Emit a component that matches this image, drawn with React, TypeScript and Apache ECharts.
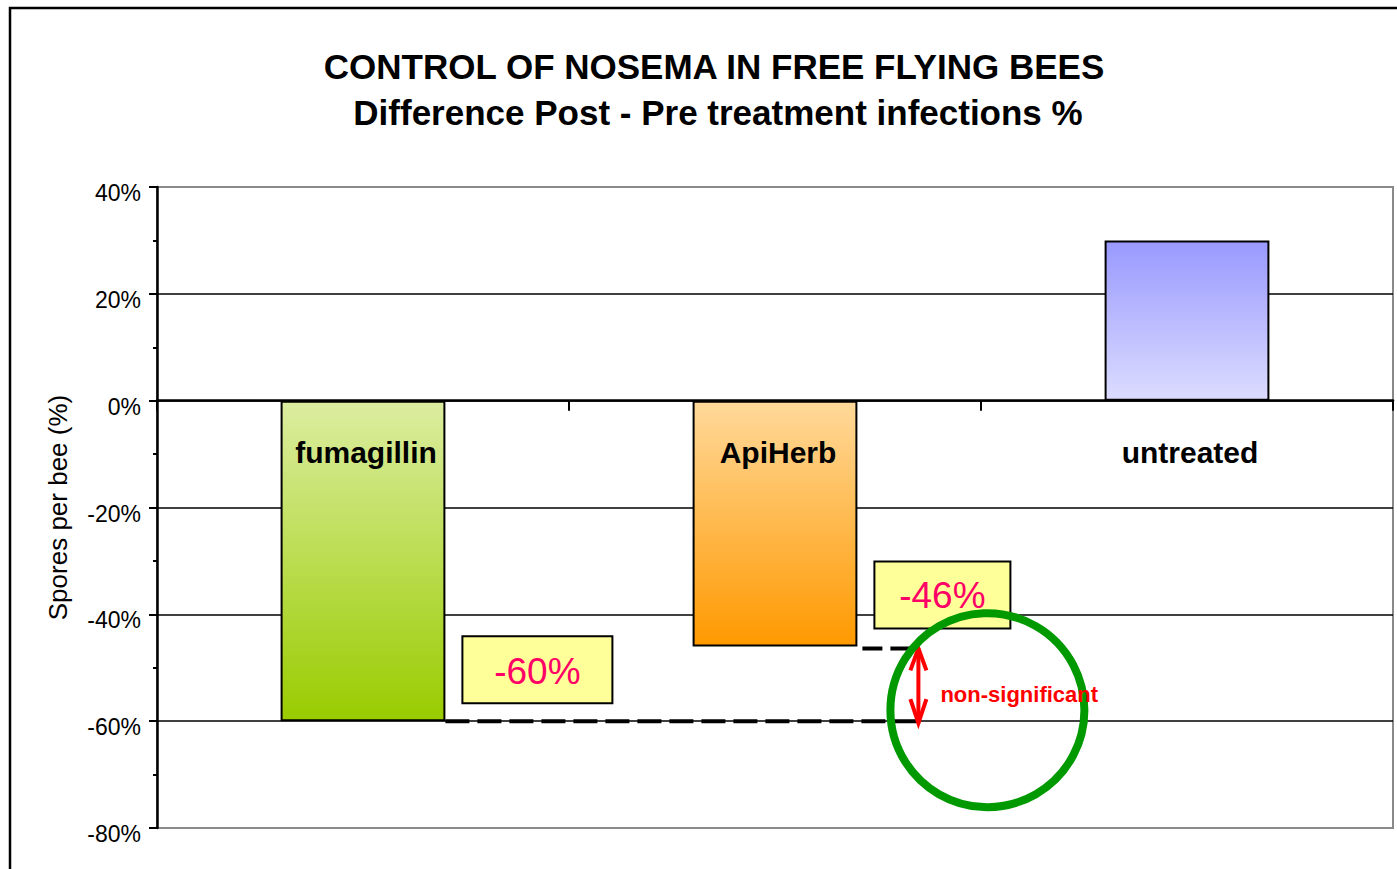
import React, { useEffect, useRef } from "react";
import * as echarts from "echarts";

const categories = ["fumagillin", "ApiHerb", "untreated"];
const values = [-60, -46, 30];
const yMin = -80;
const yMax = 40;
const yInterval = 20;
const titleLines = [
  "CONTROL OF NOSEMA IN FREE FLYING BEES",
  "Difference Post - Pre treatment infections %",
];
const boxLabels = ["-60%", "-46%"];
const noteText = "non-significant";
const axisName = "Spores per bee (%)";

const FONT = "'Liberation Sans', Arial, Helvetica, sans-serif";

const gradients = [
  ["#DCEDA0", "#99CC00"],
  ["#FFD99A", "#FF9900"],
  ["#9999FF", "#DCDCFF"],
];

export default function App() {
  const ref = useRef<HTMLDivElement>(null);
  useEffect(() => {
    if (!ref.current) return;
    const chart = echarts.init(ref.current, null, { renderer: "svg" });
    const gridLeft = 157;
    const gridRight = 4;
    const gridTop = 187;
    const gridBottom = 41;
    const option: any = {
      animation: false,
      textStyle: { fontFamily: FONT },
      grid: {
        left: gridLeft,
        right: gridRight,
        top: gridTop,
        bottom: gridBottom,
        containLabel: false,
        outerBoundsMode: "none",
        show: true,
        borderColor: "#8a8a8a",
        borderWidth: 2,
      },
      xAxis: {
        type: "category",
        data: categories,
        axisLine: { onZero: true, lineStyle: { color: "#000", width: 2.5 } },
        axisTick: { show: true, length: 10, lineStyle: { color: "#000", width: 2 } },
        axisLabel: { show: false },
        splitLine: { show: false },
      },
      yAxis: {
        type: "value",
        min: yMin,
        max: yMax,
        interval: yInterval,
        name: axisName,
        nameLocation: "middle",
        nameGap: 86,
        nameTextStyle: { color: "#000", fontSize: 26, fontFamily: FONT },
        axisLine: { show: true, lineStyle: { color: "#000", width: 2.5 } },
        axisTick: { show: true, length: 8, lineStyle: { color: "#000", width: 2 } },
        minorTick: { show: true, splitNumber: 2, length: 4, lineStyle: { color: "#000", width: 2 } },
        axisLabel: {
          formatter: (v: number) => v + "%",
          color: "#000",
          fontSize: 23,
          margin: 16,
          verticalAlign: "top",
          lineHeight: 12,
          fontFamily: FONT,
        },
        splitLine: {
          show: true,
          lineStyle: {
            color: ["#8a8a8a", "#000", "#000", "#000", "#000", "#000", "#8a8a8a"],
            width: 1.6,
          },
        },
      },
      series: [
        {
          type: "bar",
          barWidth: "40%",
          z: 3,
          data: values.map((v, i) => ({
            value: v,
            itemStyle: {
              borderColor: "#000",
              borderWidth: 2,
              color: new echarts.graphic.LinearGradient(0, 0, 0, 1, [
                { offset: 0, color: gradients[i][0] },
                { offset: 1, color: gradients[i][1] },
              ]),
            },
          })),
        },
      ],
    };
    chart.setOption(option);

    const yPx = (v: number) => chart.convertToPixel({ yAxisIndex: 0 }, v) as number;
    const xPx = (i: number) => chart.convertToPixel({ xAxisIndex: 0 }, i) as number;
    const gridW = 1397 - gridLeft - gridRight;
    const band = gridW / categories.length;
    const half = (band * 0.4) / 2;

    const yZero = yPx(0);
    const y0 = yPx(values[0]);
    const y1 = yPx(values[1]);
    const fumRight = xPx(0) + half;
    const apiRight = xPx(1) + half;
    const arrowX = apiRight + 61;

    const textEl = (text: string, x: number, y: number, font: string, fill: string, align = "center") => ({
      type: "text",
      x,
      y,
      z: 20,
      style: {
        text,
        font,
        fill,
        textAlign: align,
        align,
        textVerticalAlign: "middle",
        verticalAlign: "middle",
      },
    });

    const graphics: any[] = [
      {
        type: "rect",
        shape: { x: 10, y: 8, width: 1420, height: 900 },
        style: { fill: "none", stroke: "#000", lineWidth: 2.5 },
        z: 1,
      },
      textEl(titleLines[0], 714, 66, `bold 35px ${FONT}`, "#000"),
      textEl(titleLines[1], 718, 112, `bold 35px ${FONT}`, "#000"),
      ...categories.map((c, i) => textEl(c, xPx(i) + 3, yZero + 52, `bold 30px ${FONT}`, "#000")),
      // dashed lines
      {
        type: "line",
        z: 10,
        shape: { x1: fumRight, y1: y0, x2: arrowX, y2: y0 },
        style: { stroke: "#000", lineWidth: 4, lineDash: [24, 8] },
      },
      {
        type: "line",
        z: 10,
        shape: { x1: apiRight + 5, y1: y1 + 2, x2: arrowX, y2: y1 + 2 },
        style: { stroke: "#000", lineWidth: 4, lineDash: [20, 8] },
      },
      // box -60
      {
        type: "rect",
        z: 11,
        shape: { x: fumRight + 17, y: y0 - 85, width: 150, height: 67 },
        style: { fill: "#FFFF99", stroke: "#000", lineWidth: 2 },
      },
      textEl(boxLabels[0], fumRight + 17 + 75, y0 - 50, `37px ${FONT}`, "#FF0066"),
      // box -46
      {
        type: "rect",
        z: 11,
        shape: { x: apiRight + 17, y: y1 - 85, width: 136, height: 67 },
        style: { fill: "#FFFF99", stroke: "#000", lineWidth: 2 },
      },
      textEl(boxLabels[1], apiRight + 17 + 68, y1 - 51, `37px ${FONT}`, "#FF0066"),
      // arrow
      {
        type: "line",
        z: 12,
        shape: { x1: arrowX, y1: y1 + 2, x2: arrowX, y2: y0 + 2 },
        style: { stroke: "#FF0000", lineWidth: 4 },
      },
      {
        type: "polyline",
        z: 12,
        shape: { points: [[arrowX - 8, y1 + 24], [arrowX, y1 + 2], [arrowX + 8, y1 + 24]] },
        style: { stroke: "#FF0000", lineWidth: 4, fill: "none" },
      },
      {
        type: "polyline",
        z: 12,
        shape: { points: [[arrowX - 8, y0 - 22], [arrowX, y0 + 2], [arrowX + 8, y0 - 22]] },
        style: { stroke: "#FF0000", lineWidth: 4, fill: "none" },
      },
      textEl(noteText, arrowX + 22, (y0 + y1) / 2 + 11, `bold 22px ${FONT}`, "#FF0000", "left"),
      // circle
      {
        type: "circle",
        z: 15,
        shape: { cx: arrowX + 69, cy: y0 - 11, r: 97 },
        style: { fill: "none", stroke: "#009900", lineWidth: 8 },
      },
    ];
    chart.setOption({ graphic: graphics });

    return () => chart.dispose();
  }, []);
  return (
    <div
      ref={ref}
      style={{ position: "fixed", left: 0, top: 0, width: 1397, height: 869, background: "#fff" }}
    />
  );
}
